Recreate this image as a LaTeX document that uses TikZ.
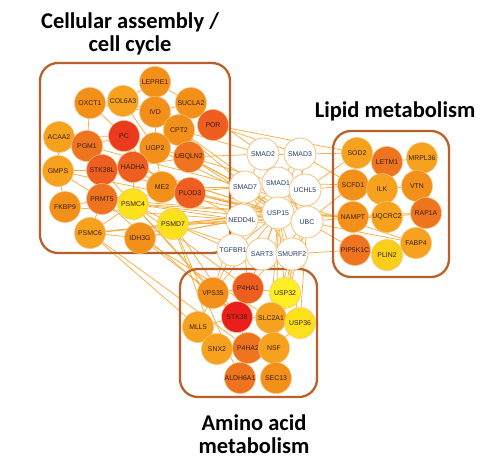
\documentclass[tikz,border=0pt]{standalone}
\usepackage{fontspec}
\setmainfont{Liberation Sans}
\newfontfamily\titlefont{Carlito}
\pgfdeclarelayer{bg}
\pgfdeclarelayer{mid}
\pgfsetlayers{bg,mid,main}
\definecolor{cO}{HTML}{F39019}
\definecolor{cL}{HTML}{F6A21E}
\definecolor{cD}{HTML}{EF7420}
\definecolor{cDD}{HTML}{EE5E20}
\definecolor{cR}{HTML}{EC3A1E}
\definecolor{cRR}{HTML}{EA1E1A}
\definecolor{cY}{HTML}{FCE11C}
\definecolor{cYY}{HTML}{FFEE24}
\definecolor{cYO}{HTML}{F9CF1A}
\definecolor{boxc}{HTML}{B8612A}
\definecolor{edgec}{HTML}{F4AE42}
\definecolor{ringc}{HTML}{F2C27E}
\definecolor{navy}{HTML}{2B3A67}
\definecolor{brn}{HTML}{3A1E0A}
\tikzset{
  gn/.style={circle, minimum size=31pt, inner sep=0pt, draw=ringc, line width=0.5pt, font=\fontsize{6.9}{8}\selectfont, text=brn},
  cn/.style={circle, minimum size=32pt, inner sep=0pt, draw=ringc, fill=white, line width=0.8pt, font=\fontsize{6.9}{8}\selectfont, text=navy},
  clusterbox/.style={draw=boxc, line width=2.3pt, rounded corners=18pt},
  edge/.style={draw=edgec, line width=0.75pt},
  ttl/.style={font=\titlefont\bfseries\fontsize{22.5}{22.5}\selectfont, align=center, text=black}
}
\begin{document}
\begin{tikzpicture}[x=1pt,y=-1pt]
\useasboundingbox (0,0) rectangle (492,473);
% titles
\node[ttl] (t1) at (130,34) {Cellular assembly /\\ cell cycle};
\node[ttl] (t2) at (395,111) {Lipid metabolism};
\node[ttl] (t3) at (254,434) {Amino acid\\ metabolism};
% left cluster
\node[gn, fill=cO] (LEPRE1) at (155,82) {LEPRE1};
\node[gn, fill=cO] (OXCT1) at (90,103) {OXCT1};
\node[gn, fill=cL] (COL6A3) at (123,101) {COL6A3};
\node[gn, fill=cO] (IVD) at (155,112) {IVD};
\node[gn, fill=cO] (SUCLA2) at (191,103) {SUCLA2};
\node[gn, fill=cDD] (POR) at (213,125) {POR};
\node[gn, fill=cL] (ACAA2) at (59,137) {ACAA2};
\node[gn, fill=cD] (PGM1) at (87,146) {PGM1};
\node[gn, fill=cR] (PC) at (124,136) {PC};
\node[gn, fill=cO] (CPT2) at (179,130) {CPT2};
\node[gn, fill=cO] (UGP2) at (155,148) {UGP2};
\node[gn, fill=cD] (UBQLN2) at (189,157) {UBQLN2};
\node[gn, fill=cL] (GMPS) at (58,171) {GMPS};
\node[gn, fill=cDD] (STK38L) at (102,170) {STK38L};
\node[gn, fill=cDD] (HADHA) at (133,167) {HADHA};
\node[gn, fill=cO] (ME2) at (162,187) {ME2};
\node[gn, fill=cDD] (PLOD3) at (190,193) {PLOD3};
\node[gn, fill=cO] (FKBP9) at (65,207) {FKBP9};
\node[gn, fill=cD] (PRMT5) at (102,199) {PRMT5};
\node[gn, fill=cY] (PSMC4) at (133,204) {PSMC4};
\node[gn, fill=cY] (PSMD7) at (173,224) {PSMD7};
\node[gn, fill=cL] (PSMC6) at (90,233) {PSMC6};
\node[gn, fill=cO] (IDH3G) at (140,238) {IDH3G};
% right cluster
\node[gn, fill=cL] (SOD2) at (357,153) {SOD2};
\node[gn, fill=cD] (LETM1) at (387,162) {LETM1};
\node[gn, fill=cL] (MRPL36) at (422,158) {MRPL36};
\node[gn, fill=cO] (SCFD1) at (353,185) {SCFD1};
\node[gn, fill=cL] (ILK) at (382,189) {ILK};
\node[gn, fill=cO] (VTN) at (417,186) {VTN};
\node[gn, fill=cO] (NAMPT) at (353,217) {NAMPT};
\node[gn, fill=cL] (UQCRC2) at (387,217) {UQCRC2};
\node[gn, fill=cD] (RAP1A) at (426,213) {RAP1A};
\node[gn, fill=cL] (FABP4) at (416,243) {FABP4};
\node[gn, fill=cD] (PIP5K1C) at (355,250) {PIP5K1C};
\node[gn, fill=cYO] (PLIN2) at (387,255) {PLIN2};
% center
\node[cn] (SMAD2) at (263,154) {SMAD2};
\node[cn] (SMAD3) at (300,154) {SMAD3};
\node[cn] (SMAD7) at (245,187) {SMAD7};
\node[cn] (SMAD1) at (278,183) {SMAD1};
\node[cn] (UCHL5) at (305,190) {UCHL5};
\node[cn] (NEDD4L) at (242,220) {NEDD4L};
\node[cn] (USP15) at (278,213) {USP15};
\node[cn] (UBC) at (307,222) {UBC};
\node[cn] (TGFBR1) at (233,250) {TGFBR1};
\node[cn] (SART3) at (262,254) {SART3};
\node[cn] (SMURF2) at (292,254) {SMURF2};
% bottom cluster
\node[gn, fill=cO] (VPS35) at (213,293) {VPS35};
\node[gn, fill=cDD] (P4HA1) at (248,288) {P4HA1};
\node[gn, fill=cYY] (USP32) at (285,293) {USP32};
\node[gn, fill=cL] (MLL5) at (198,327) {MLL5};
\node[gn, fill=cRR] (STK38) at (237,317) {STK38};
\node[gn, fill=cL] (SLC2A1) at (271,318) {SLC2A1};
\node[gn, fill=cY] (USP36) at (300,323) {USP36};
\node[gn, fill=cL] (SNX2) at (217,349) {SNX2};
\node[gn, fill=cD] (P4HA2) at (248,348) {P4HA2};
\node[gn, fill=cL] (NSF) at (274,348) {NSF};
\node[gn, fill=cD] (ALDH6A1) at (240,378) {ALDH6A1};
\node[gn, fill=cO] (SEC13) at (276,378) {SEC13};
% boxes
\begin{pgfonlayer}{mid}
\draw[clusterbox] (40,63) rectangle (230,253);
\draw[clusterbox] (333,131) rectangle (449,277);
\draw[clusterbox] (180,269) rectangle (317,397);
\end{pgfonlayer}
% edges
\begin{pgfonlayer}{bg}
\foreach \a/\b in {SMAD2/SMAD3,SMAD2/SMAD1,SMAD2/SMAD7,SMAD2/USP15,SMAD3/SMAD1,SMAD3/UCHL5,SMAD3/USP15,
  SMAD7/SMAD1,SMAD7/USP15,SMAD7/NEDD4L,SMAD7/SMURF2,SMAD1/USP15,SMAD1/UCHL5,SMAD1/UBC,SMAD1/NEDD4L,
  UCHL5/USP15,UCHL5/UBC,NEDD4L/USP15,NEDD4L/UBC,NEDD4L/TGFBR1,USP15/UBC,USP15/SART3,USP15/SMURF2,
  USP15/TGFBR1,UBC/SMURF2,SART3/SMURF2,TGFBR1/SMAD7,TGFBR1/SMURF2,SMAD3/UBC,SMAD2/UBC,
  % left internal
  OXCT1/COL6A3,OXCT1/PGM1,OXCT1/PC,COL6A3/IVD,COL6A3/LEPRE1,IVD/SUCLA2,IVD/CPT2,SUCLA2/CPT2,
  ACAA2/PGM1,ACAA2/PC,ACAA2/GMPS,PGM1/PC,PGM1/STK38L,PC/UGP2,PC/HADHA,UGP2/CPT2,UGP2/UBQLN2,
  GMPS/STK38L,STK38L/HADHA,HADHA/ME2,ME2/PLOD3,FKBP9/GMPS,FKBP9/PRMT5,PRMT5/PSMC6,PRMT5/STK38L,
  PSMC4/PSMD7,PSMC6/IDH3G,PSMC6/PSMD7,IDH3G/PSMD7,PSMC4/PSMC6,PSMC4/HADHA,OXCT1/IVD,COL6A3/UGP2,
  LEPRE1/SUCLA2,IVD/UGP2,PC/ME2,UGP2/ME2,HADHA/UBQLN2,GMPS/PRMT5,
  % left to center
  UBQLN2/SMAD2,UBQLN2/SMAD7,UBQLN2/USP15,UBQLN2/UBC,UBQLN2/SMAD1,PLOD3/USP15,PLOD3/NEDD4L,PLOD3/UBC,
  ME2/USP15,ME2/SMAD7,PSMD7/NEDD4L,PSMD7/USP15,PSMD7/UBC,PSMD7/TGFBR1,PSMD7/SART3,PSMC4/USP15,PSMC4/UBC,
  PSMC4/NEDD4L,IDH3G/USP15,IDH3G/NEDD4L,PSMC6/USP15,PSMC6/NEDD4L,PRMT5/USP15,PRMT5/SMAD7,HADHA/USP15,
  HADHA/UBC,UGP2/UBC,CPT2/SMAD2,CPT2/USP15,IVD/UBC,POR/SMAD3,POR/SOD2,SUCLA2/SMAD2,STK38L/USP15,
  GMPS/UBC,FKBP9/NEDD4L,PGM1/SMAD7,
  % right internal
  SOD2/LETM1,LETM1/MRPL36,SOD2/SCFD1,SCFD1/ILK,ILK/VTN,VTN/MRPL36,NAMPT/UQCRC2,UQCRC2/RAP1A,
  NAMPT/PIP5K1C,PIP5K1C/PLIN2,UQCRC2/ILK,SCFD1/NAMPT,
  % right to center
  SOD2/SMAD3,SOD2/UCHL5,SCFD1/UCHL5,SCFD1/UBC,SCFD1/SMAD1,NAMPT/UBC,NAMPT/USP15,UQCRC2/USP15,
  FABP4/UBC,PIP5K1C/UBC,PIP5K1C/SMURF2,SCFD1/SMAD3,RAP1A/NEDD4L,FABP4/SMAD7,
  % bottom internal
  VPS35/P4HA1,P4HA1/USP32,VPS35/STK38,MLL5/STK38,STK38/P4HA2,STK38/SLC2A1,SLC2A1/USP36,SNX2/P4HA2,
  P4HA2/NSF,P4HA2/ALDH6A1,NSF/SEC13,NSF/SLC2A1,SNX2/MLL5,USP36/NSF,P4HA1/STK38,
  % bottom to center
  VPS35/USP15,P4HA1/UBC,USP32/UBC,USP32/SMURF2,USP36/UBC,USP36/USP15,SLC2A1/USP15,STK38/USP15,
  NSF/UBC,SEC13/USP15,P4HA1/NEDD4L,VPS35/SMAD7,SLC2A1/SMURF2,USP32/USP15,MLL5/TGFBR1,
  % bottom to left
  VPS35/IDH3G,MLL5/PSMC6,SNX2/PSMD7,P4HA1/PSMC4,STK38/PSMD7,ALDH6A1/PSMD7,STK38/STK38L,VPS35/PSMC4,
  P4HA2/PSMC6,SLC2A1/IDH3G,STK38/PRMT5}
  \draw[edge] (\a) -- (\b);
\end{pgfonlayer}
\end{tikzpicture}
\end{document}
